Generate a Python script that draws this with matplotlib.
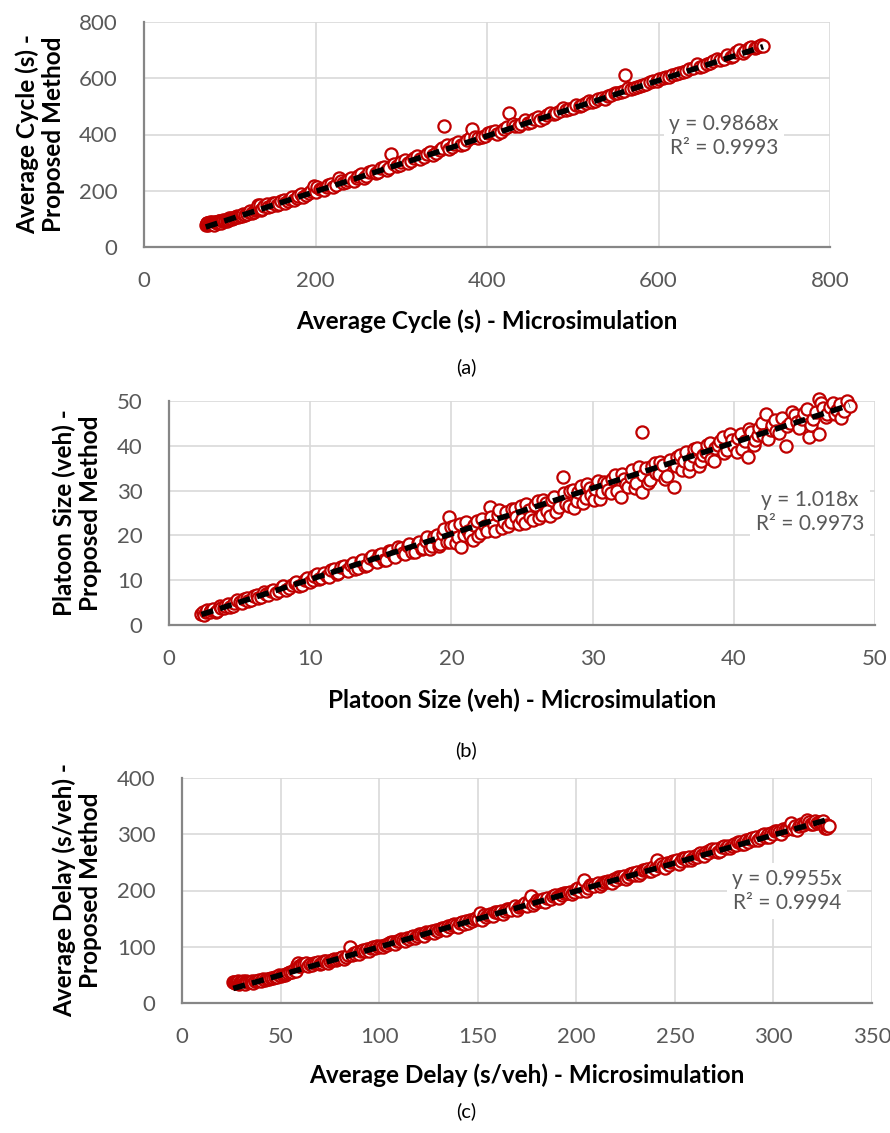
import matplotlib.pyplot as plt

plt.rcParams['font.family'] = ['Lato', 'DejaVu Sans']

# (a) average cycle (s): microsimulation vs proposed method
cycle_micro = [72, 74, 75, 77, 78, 80, 82, 84, 86, 88, 90, 92, 95, 98, 100, 103, 106, 110, 114, 118,
               122, 126, 130, 133, 136, 140, 145, 150, 155, 160, 165, 170, 175, 180, 186, 192, 198, 200,
               205, 210, 215, 220, 227, 232, 238, 245, 250, 256, 262, 270, 276, 283, 288, 295, 300, 308,
               315, 322, 330, 337, 345, 350, 356, 362, 370, 377, 382, 390, 398, 405, 412, 420, 426, 433,
               440, 448, 455, 462, 470, 478, 485, 492, 500, 508, 515, 522, 530, 538, 545, 552, 560, 561,
               568, 575, 582, 590, 598, 605, 612, 620, 628, 636, 645, 652, 660, 668, 676, 684, 690, 698,
               705, 712, 718, 722]
cycle_model = [80, 85, 78, 88, 83, 86, 80, 90, 84, 92, 87, 95, 92, 97, 101, 99, 108, 106, 112, 115,
               124, 121, 130, 150, 132, 145, 141, 155, 148, 162, 158, 172, 168, 180, 178, 192, 218, 195,
               207, 203, 220, 214, 247, 226, 240, 236, 252, 247, 265, 262, 280, 274, 332, 288, 302, 298,
               316, 314, 332, 328, 346, 430, 350, 365, 362, 380, 418, 386, 395, 408, 403, 418, 476, 430,
               438, 442, 456, 452, 468, 474, 482, 488, 496, 500, 512, 516, 526, 528, 540, 548, 556, 611,
               562, 570, 576, 586, 592, 600, 606, 614, 622, 632, 652, 644, 655, 670, 668, 676, 692, 690,
               706, 708, 716, 714]
cycle_extra = [(73, 84), (76, 82), (79, 89), (81, 84), (83, 88), (85, 86), (87, 93), (89, 88), (91, 92),
               (94, 97), (97, 94), (99, 103), (102, 104), (105, 102), (108, 112), (112, 110), (116, 118),
               (120, 117), (124, 127), (128, 125), (132, 136), (135, 148), (138, 136), (143, 152),
               (148, 146), (153, 158), (158, 154), (163, 167), (168, 164), (173, 178), (178, 175),
               (183, 189), (189, 186), (195, 200), (202, 212), (208, 205), (213, 215), (218, 223),
               (224, 220), (230, 234), (235, 232), (241, 245), (248, 244), (253, 258), (259, 254),
               (266, 272), (273, 268), (280, 285), (286, 282), (292, 296), (298, 292), (304, 310),
               (311, 306), (318, 322), (326, 320), (333, 338), (341, 336), (348, 352), (353, 362),
               (359, 355), (366, 372), (373, 368), (380, 386), (386, 392), (394, 390), (401, 404),
               (409, 414), (416, 410), (423, 428), (430, 436), (437, 432), (444, 452), (451, 446),
               (459, 464), (466, 460), (474, 478), (481, 476), (489, 494), (496, 490), (504, 506),
               (511, 505), (519, 520), (526, 518), (534, 530), (541, 536), (549, 546), (556, 552),
               (564, 564), (571, 566), (579, 574), (586, 580), (594, 590), (601, 596), (609, 604),
               (616, 610), (624, 618), (632, 626), (640, 636), (648, 640), (656, 650), (664, 662),
               (672, 664), (680, 682), (687, 680), (694, 700), (701, 696), (708, 712), (715, 710),
               (720, 718)]

# (b) platoon size (veh)
platoon_micro = [2.3, 2.4, 2.5, 2.7, 2.9, 3.1, 3.4, 3.7, 4.0, 4.3, 4.6, 5.0, 5.3, 5.6, 6.0, 6.3, 6.7,
                 7.0, 7.4, 7.8, 8.1, 8.5, 8.9, 9.2, 9.6, 10.0, 10.3, 10.6, 11.0, 11.3, 11.7, 12.0, 12.4,
                 12.7, 13.0, 13.4, 13.7, 14.0, 14.4, 14.7, 15.0, 15.4, 15.7, 16.0, 16.4, 16.7, 17.0, 17.4,
                 17.7, 18.0, 18.3, 18.6, 19.0, 19.2, 19.5, 19.8, 19.9, 20.2, 20.5, 20.7, 21.0, 21.3, 21.6,
                 21.9, 22.2, 22.5, 22.7, 23.0, 23.3, 23.6, 23.9, 24.2, 24.5, 24.8, 25.0, 25.3, 25.6, 25.9,
                 26.2, 26.5, 26.8, 27.1, 27.4, 27.9, 28.0, 28.3, 28.6, 28.9, 29.2, 29.5, 29.8, 30.1, 30.4,
                 30.7, 31.0, 31.3, 31.6, 32.0, 32.2, 32.5, 32.8, 33.1, 33.5, 33.5, 33.8, 34.1, 34.4, 34.7,
                 35.0, 35.3, 35.8, 36.0, 36.3, 36.6, 36.9, 37.2, 37.5, 37.8, 38.1, 38.4, 38.7, 39.0, 39.3,
                 39.7, 40.0, 40.3, 40.6, 41.0, 41.2, 41.5, 41.8, 42.1, 42.3, 42.6, 42.9, 43.2, 43.7, 44.0,
                 44.3, 44.6, 45.0, 45.3, 45.6, 46.0, 46.0, 46.3, 46.6, 47.0, 47.3, 47.6, 48.0, 48.2]
platoon_model = [2.4, 2.9, 2.2, 3.3, 2.8, 3.5, 3.2, 3.9, 4.3, 4.0, 5.0, 5.2, 5.8, 5.3, 6.4, 6.0, 7.3,
                 6.8, 7.9, 7.5, 8.6, 8.2, 9.4, 8.8, 10.1, 9.6, 10.9, 10.2, 11.6, 10.8, 12.4, 11.5, 13.1,
                 12.0, 13.8, 12.7, 14.6, 13.5, 15.3, 14.0, 15.8, 14.6, 16.5, 15.2, 17.2, 15.8, 18.0, 16.4,
                 18.6, 17.2, 19.6, 17.6, 20.2, 18.0, 21.4, 24.0, 18.6, 22.0, 19.6, 17.4, 23.0, 20.2, 22.4,
                 19.8, 23.6, 21.0, 26.3, 22.4, 24.6, 21.6, 25.2, 23.0, 26.0, 22.6, 23.7, 27.0, 24.2, 26.8,
                 23.8, 28.0, 25.4, 27.8, 25.2, 33.0, 29.4, 26.6, 30.2, 27.6, 31.0, 28.4, 30.6, 28.0, 32.2,
                 29.6, 31.8, 29.4, 33.4, 28.5, 32.6, 30.8, 34.6, 31.6, 43.0, 29.6, 35.0, 32.4, 36.2, 33.6,
                 35.8, 33.2, 30.7, 37.4, 34.6, 38.6, 36.0, 39.2, 35.6, 38.0, 40.2, 37.0, 39.6, 41.0, 38.4,
                 42.6, 40.0, 41.8, 39.2, 37.6, 43.0, 41.4, 44.0, 42.4, 47.0, 43.6, 45.8, 42.8, 40.0, 45.0,
                 46.8, 44.0, 47.4, 42.0, 46.0, 50.4, 42.6, 48.4, 47.0, 49.6, 48.0, 46.3, 50.0, 48.8]
platoon_extra = [(2.6, 3.0), (3.0, 3.4), (3.3, 3.0), (3.6, 4.2), (3.9, 3.7), (4.2, 4.6), (4.5, 4.2),
                 (4.8, 5.5), (5.2, 5.0), (5.5, 6.0), (5.8, 5.6), (6.2, 6.8), (6.5, 6.3), (6.9, 7.0),
                 (7.2, 7.6), (7.6, 7.2), (8.0, 8.4), (8.3, 7.9), (8.7, 8.9), (9.0, 9.5), (9.4, 9.0),
                 (9.8, 10.4), (10.2, 10.0), (10.5, 11.3), (10.8, 10.5), (11.2, 11.0), (11.5, 12.2),
                 (11.9, 11.4), (12.2, 12.9), (12.6, 12.2), (12.9, 13.5), (13.2, 12.4), (13.6, 14.2),
                 (13.9, 13.2), (14.2, 15.0), (14.6, 14.3), (14.9, 15.6), (15.2, 14.4), (15.6, 16.6),
                 (15.9, 15.5), (16.2, 17.4), (16.6, 16.0), (16.9, 17.6), (17.2, 16.2), (17.6, 18.4),
                 (17.9, 17.0), (18.2, 18.8), (18.5, 17.0), (18.8, 19.6), (19.1, 17.6), (19.4, 20.4),
                 (19.7, 18.6), (20.0, 21.8), (20.3, 18.4), (20.6, 22.6), (20.9, 20.0), (21.2, 21.0),
                 (21.5, 19.0), (21.8, 23.2), (22.1, 20.6), (22.4, 22.0), (22.8, 24.2), (23.1, 21.0),
                 (23.4, 25.6), (23.7, 23.0), (24.0, 22.0), (24.3, 25.8), (24.6, 24.0), (24.9, 26.6),
                 (25.2, 22.8), (25.5, 25.6), (25.8, 23.4), (26.1, 27.6), (26.4, 24.6), (26.7, 27.2),
                 (27.0, 24.4), (27.3, 28.6), (27.6, 26.4), (28.1, 27.0), (28.4, 30.0), (28.7, 26.2),
                 (29.0, 29.6), (29.3, 27.2), (29.6, 31.4), (29.9, 29.0), (30.2, 30.4), (30.5, 28.2),
                 (30.8, 32.0), (31.1, 30.2), (31.4, 32.6), (31.7, 30.0), (32.1, 33.6), (32.4, 31.4),
                 (32.7, 33.0), (33.0, 30.6), (33.3, 35.2), (33.6, 33.4), (33.9, 31.6), (34.2, 35.6),
                 (34.5, 34.0), (34.8, 36.4), (35.1, 32.6), (35.5, 36.8), (35.9, 35.4), (36.2, 38.0),
                 (36.5, 36.6), (36.8, 34.4), (37.1, 37.8), (37.4, 39.6), (37.7, 36.6), (38.0, 38.6),
                 (38.3, 40.6), (38.6, 36.6), (38.9, 40.2), (39.2, 42.0), (39.5, 39.0), (39.9, 41.2),
                 (40.2, 38.6), (40.5, 42.6), (40.8, 41.0), (41.1, 43.8), (41.4, 40.2), (41.7, 42.4),
                 (42.0, 45.0), (42.4, 41.6), (42.7, 44.6), (43.0, 43.2), (43.4, 46.2), (43.8, 44.4),
                 (44.1, 47.6), (44.5, 45.4), (44.8, 46.0), (45.2, 48.2), (45.5, 44.6), (45.8, 47.6),
                 (46.2, 49.6), (46.5, 46.4), (46.8, 48.6), (47.2, 47.2), (47.5, 49.4), (47.8, 47.8)]

# (c) average delay (s/veh)
delay_micro = [26, 27, 28, 29, 30, 31, 32, 33, 35, 36, 38, 40, 42, 44, 46, 48, 50, 52, 54, 56, 58, 59,
               60, 62, 64, 66, 68, 70, 72, 74, 76, 78, 80, 82, 85, 86, 88, 90, 92, 95, 98, 100, 102, 105,
               108, 110, 113, 116, 118, 120, 123, 126, 128, 131, 134, 137, 140, 142, 145, 148, 151, 152,
               155, 158, 160, 163, 166, 170, 173, 177, 178, 181, 184, 188, 191, 195, 198, 201, 204, 205,
               208, 212, 215, 218, 222, 225, 228, 232, 235, 238, 241, 242, 245, 248, 252, 255, 258, 262,
               265, 268, 272, 275, 278, 282, 285, 288, 292, 295, 298, 301, 304, 307, 309, 312, 315, 317,
               320, 322, 325, 327, 328]
delay_model = [37, 35, 38, 33, 36, 39, 34, 37, 38, 35, 40, 39, 41, 43, 44, 47, 48, 50, 53, 55, 57, 72,
               65, 70, 66, 68, 72, 69, 74, 72, 77, 76, 80, 79, 100, 86, 88, 87, 94, 93, 98, 100, 99, 106,
               105, 111, 110, 118, 115, 122, 120, 126, 124, 132, 130, 138, 136, 144, 142, 150, 160, 148,
               157, 154, 162, 158, 168, 166, 174, 190, 174, 182, 180, 190, 186, 196, 193, 204, 219, 200,
               210, 208, 216, 213, 224, 220, 230, 228, 237, 234, 255, 244, 240, 250, 248, 258, 254, 265,
               262, 272, 268, 280, 276, 286, 282, 292, 290, 300, 296, 305, 300, 311, 320, 308, 316, 326,
               318, 320, 324, 311, 314]
delay_extra = [(26.5, 38), (27.5, 36), (28.5, 39), (29.5, 37), (30.5, 38), (31.5, 36), (32.5, 39),
               (34, 38), (35.5, 40), (37, 39), (39, 41), (41, 42), (43, 42), (45, 45), (47, 46), (49, 49),
               (51, 50), (53, 52), (55, 56), (57, 58), (58.5, 68), (59.5, 66), (61, 69), (63, 71),
               (65, 70), (67, 71), (69, 73), (71, 72), (73, 75), (75, 75), (77, 78), (79, 79), (81, 82),
               (83, 82), (84, 85), (87, 89), (89, 90), (91, 92), (93, 92), (94, 96), (96, 97), (97, 99),
               (99, 101), (101, 102), (103, 104), (104, 103), (106, 108), (107, 108), (109, 110),
               (111, 113), (112, 112), (114, 116), (115, 114), (117, 119), (119, 120), (121, 122),
               (122, 121), (124, 126), (125, 125), (127, 128), (129, 130), (130, 128), (132, 134),
               (133, 133), (135, 137), (136, 135), (138, 140), (139, 138), (141, 143), (143, 141),
               (144, 146), (146, 147), (147, 145), (149, 151), (150, 149), (153, 156), (154, 153),
               (156, 158), (157, 156), (159, 161), (161, 160), (162, 164), (164, 163), (165, 167),
               (167, 166), (169, 172), (171, 170), (172, 173), (174, 177), (175, 172), (176, 180),
               (179, 178), (180, 183), (182, 181), (183, 185), (185, 186), (187, 185), (189, 192),
               (190, 189), (192, 194), (193, 192), (194, 196), (196, 195), (197, 198), (199, 197),
               (200, 202), (202, 200), (203, 206), (206, 205), (207, 209), (209, 208), (211, 213),
               (213, 211), (214, 215), (216, 217), (217, 215), (219, 221), (220, 219), (221, 224),
               (223, 222), (224, 226), (226, 224), (227, 229), (229, 231), (230, 228), (231, 233),
               (233, 232), (234, 236), (236, 238), (237, 235), (239, 242), (240, 239), (243, 247),
               (244, 243), (246, 249), (247, 246), (249, 252), (250, 250), (251, 254), (253, 252),
               (254, 257), (256, 255), (257, 260), (259, 258), (260, 262), (261, 260), (263, 266),
               (264, 263), (266, 269), (267, 266), (269, 273), (270, 270), (271, 274), (273, 271),
               (274, 277), (276, 276), (277, 279), (279, 279), (280, 283), (281, 281), (283, 286),
               (284, 283), (286, 290), (287, 287), (289, 293), (290, 289), (291, 295), (293, 294),
               (294, 298), (296, 295), (297, 301), (299, 302), (300, 300), (302, 306), (303, 304),
               (305, 309), (306, 307), (308, 312), (310, 310), (311, 315), (313, 314), (314, 318),
               (316, 320), (318, 322), (319, 318), (321, 324), (323, 322), (324, 321), (326, 312),
               (327, 316)]

slopes = [0.9868, 1.018, 0.9955]
r2 = ['0.9993', '0.9973', '0.9994']
xlabels = ['Average Cycle (s) - Microsimulation',
           'Platoon Size (veh) - Microsimulation',
           'Average Delay (s/veh) - Microsimulation']
ylabels = ['Average Cycle (s) -\nProposed Method',
           'Platoon Size (veh) -\nProposed Method',
           'Average Delay (s/veh) -\nProposed Method']
tags = ['(a)', '(b)', '(c)']
ylimits = [800, 50, 400]
xlimits = [800, 50, 350]
xsteps = [200, 10, 50]
ysteps = [200, 10, 100]

W, H = 890, 1133
fig = plt.figure(figsize=(W / 100, H / 100), dpi=100)


def px_rect(l, t, r, b):
    return [l / W, 1 - b / H, (r - l) / W, (b - t) / H]


# pixel boxes of the three plot areas, plus label positions
boxes = [(144, 22, 830, 247), (169, 401, 875, 625), (182, 778, 872, 1003)]
ylab_x = [40, 77, 77]
xlab_y = [321, 700, 1075]
tag_y = [367, 750, 1111]
eq_pos = [(724, 136), (810, 512), (787, 891)]

gray = '#595959'
red = '#C00000'

data = [(cycle_micro + [p[0] for p in cycle_extra], cycle_model + [p[1] for p in cycle_extra]),
        (platoon_micro + [p[0] for p in platoon_extra], platoon_model + [p[1] for p in platoon_extra]),
        (delay_micro + [p[0] for p in delay_extra], delay_model + [p[1] for p in delay_extra])]

for i, (xs, ys) in enumerate(data):
    l, t, r, b = boxes[i]
    ax = fig.add_axes(px_rect(l, t, r, b))
    order = sorted(range(len(xs)), key=lambda k: xs[k])
    ax.plot([xs[k] for k in order], [ys[k] for k in order], linestyle='none', marker='o',
            ms=8.8, mfc='white', mec=red, mew=1.6, zorder=3, clip_on=False)
    x0, x1 = min(xs), max(xs)
    ax.plot([x0, x1], [slopes[i] * x0, slopes[i] * x1], color='black', lw=4,
            dashes=(2.2, 1.3), zorder=4)
    ax.set_xlim(0, xlimits[i])
    ax.set_ylim(0, ylimits[i])
    ax.set_xticks(range(0, xlimits[i] + 1, xsteps[i]))
    ax.set_yticks(range(0, ylimits[i] + 1, ysteps[i]))
    ax.grid(color='#D9D9D9', lw=1.2, zorder=0)
    ax.set_axisbelow(True)
    for s in ['top', 'right']:
        ax.spines[s].set_visible(False)
    for s in ['left', 'bottom']:
        ax.spines[s].set_color('#868686')
        ax.spines[s].set_linewidth(1.6)
    ax.tick_params(length=0, labelsize=16, labelcolor=gray)
    ax.tick_params(axis='x', pad=17)
    ax.tick_params(axis='y', pad=19)
    ax.text((eq_pos[i][0] - l) / (r - l), (b - eq_pos[i][1]) / (b - t),
            'y = %sx\nR² = %s' % (slopes[i], r2[i]), transform=ax.transAxes,
            ha='center', va='center', fontsize=15, color=gray, linespacing=1.25, zorder=5,
            bbox=dict(facecolor='white', edgecolor='none', pad=4))

    fig.text((l + r) / 2 / W, 1 - xlab_y[i] / H, xlabels[i], ha='center', va='center',
             fontsize=17.5, fontweight='bold')
    fig.text(ylab_x[i] / W, 1 - (t + b) / 2 / H, ylabels[i], ha='center', va='center',
             rotation=90, fontsize=17.5, fontweight='bold', linespacing=1.15)
    fig.text(466 / W, 1 - tag_y[i] / H, tags[i], ha='center', va='center', fontsize=14.5)

fig.savefig('out.png', dpi=100)
